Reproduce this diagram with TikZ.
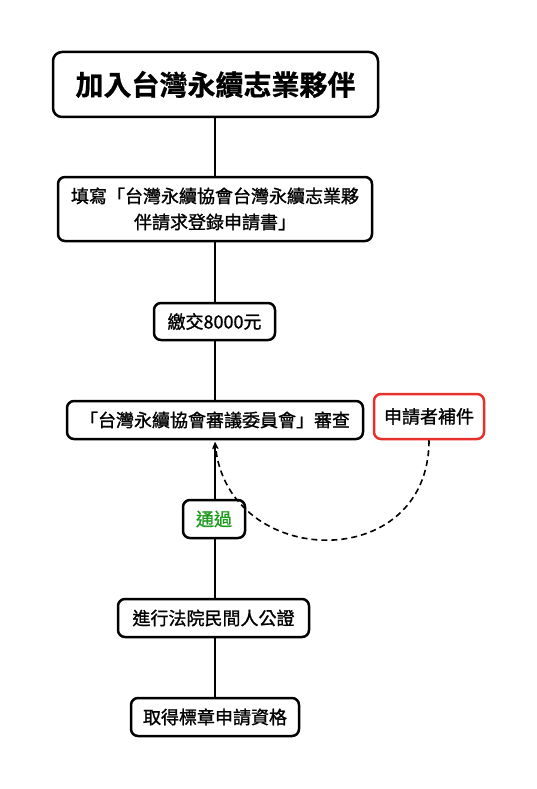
\documentclass[tikz,border=0pt]{standalone}
\usepackage{fontspec}
\setmainfont{Noto Sans CJK TC}[BoldFont={* Bold}]
\newfontface\medfont{Noto Sans CJK TC}[FakeBold=1.2]
\newfontface\heavyfont{Noto Sans CJK TC Bold}[FakeBold=0.8]
\usetikzlibrary{arrows.meta}
\definecolor{passgreen}{HTML}{1E9A1E}
\definecolor{redbox}{HTML}{E8302A}
\tikzset{
  box/.style={draw=black, line width=2.5pt, rounded corners=7pt, fill=white, align=center, inner sep=0pt, font=\medfont\fontsize{18}{26}\selectfont},
  conn/.style={line width=2.5pt},
  dashconn/.style={line width=1.6pt, dash pattern=on 6pt off 4pt},
}
\begin{document}
\begin{tikzpicture}[x=1pt,y=-1pt]
\useasboundingbox (0,0) rectangle (536,789);
\node[box, minimum width=325pt, minimum height=65pt, rounded corners=9pt, font=\heavyfont\fontsize{28}{30}\selectfont] (t1) at (215.5,84.5) {加入台灣永續志業夥伴};
\node[box, minimum width=314pt, minimum height=64pt] (t2) at (215,209) {填寫「台灣永續協會台灣永續志業夥\\伴請求登錄申請書」};
\node[box, minimum width=121pt, minimum height=37pt] (t3) at (214.5,321.5) {繳交8000元};
\node[box, minimum width=296pt, minimum height=38pt] (t4) at (215,420) {「台灣永續協會審議委員會」審查};
\node[box, draw=redbox, minimum width=110pt, minimum height=45pt] (r) at (429,416.5) {申請者補件};
\node[box, minimum width=62pt, minimum height=38pt, text=passgreen] (p) at (214,519) {通過};
\node[box, minimum width=191pt, minimum height=38pt] (t6) at (213.5,618) {進行法院民間人公證};
\node[box, minimum width=168pt, minimum height=38pt] (t7) at (215,717) {取得標章申請資格};
\coordinate (tip) at (215,442);
\draw[conn] (t1.south -| 215,0) -- (t2.north -| 215,0);
\draw[conn] (t2.south -| 215,0) -- (t3.north -| 215,0);
\draw[conn] (t3.south -| 215,0) -- (t4.north -| 215,0);
\draw[conn, -{Stealth[length=7pt,width=6pt]}] (p.north -| 215,0) -- (tip);
\draw[conn] (p.south -| 215,0) -- (t6.north -| 215,0);
\draw[conn] (t6.south -| 215,0) -- (t7.north -| 215,0);
\draw[dashconn, -{Stealth[length=7pt,width=6pt]}] (r.south) .. controls (429,575) and (228,570) .. (tip);
\end{tikzpicture}
\end{document}
